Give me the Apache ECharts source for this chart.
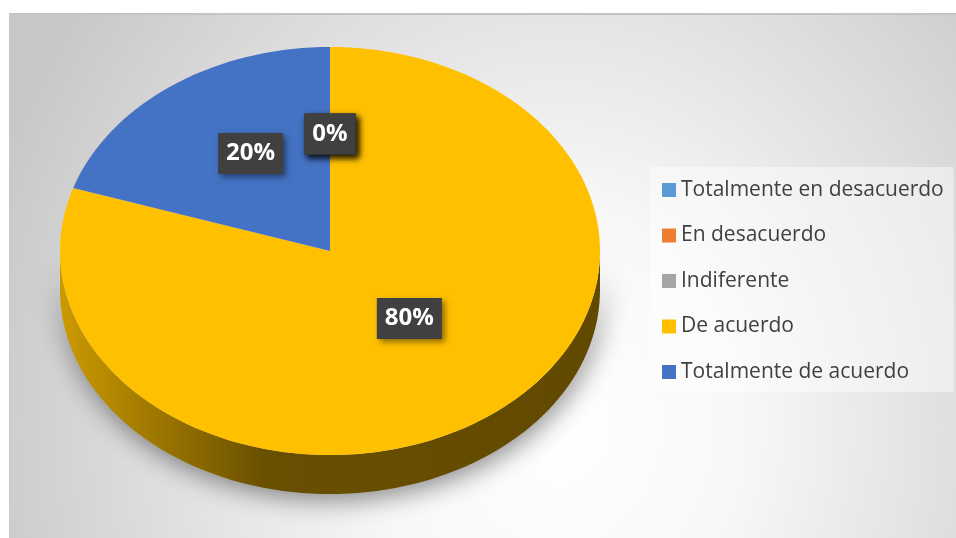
<!DOCTYPE html>
<html>
<head>
<meta charset="utf-8">
<script src="https://cdn.jsdelivr.net/npm/echarts@6/dist/echarts.min.js"></script>
<style>
  html, body { margin: 0; padding: 0; background: #fff; }
  #frame {
    position: absolute; left: 9px; top: 13px; width: 946px; height: 525px;
    border-top: 2px solid #c4c4c4; border-left: 1px solid #c8c8c8;
    background: radial-gradient(ellipse 600px 700px at 58% 78%, #ffffff 0%, #f8f8f8 30%, #c8c8c8 100%);
  }
  #chart { position: absolute; left: 0; top: 0; width: 956px; height: 538px; }
</style>
</head>
<body>
<div id="frame"></div>
<div id="chart"></div>
<script>
// categorias y valores (%)
const categories = ['Totalmente en desacuerdo', 'En desacuerdo', 'Indiferente', 'De acuerdo', 'Totalmente de acuerdo'];
const values = [0, 0, 0, 80, 20];
const colors = ['#5B9BD5', '#ED7D31', '#A5A5A5', '#FFC000', '#4472C4'];

// geometria del pastel 3D
const cx = 330, cy = 251, rx = 270, ry = 204, depth = 39;

const total = values.reduce((a, b) => a + b, 0);

function darken(hex, k) {
  const n = parseInt(hex.slice(1), 16);
  const r = Math.round(((n >> 16) & 255) * k);
  const g = Math.round(((n >> 8) & 255) * k);
  const b = Math.round((n & 255) * k);
  return 'rgb(' + r + ',' + g + ',' + b + ')';
}

function pt(t, dy) {
  return [cx + rx * Math.cos(t), cy - ry * Math.sin(t) + (dy || 0)];
}

function arc(from, to, dy) {
  const steps = Math.max(2, Math.ceil(Math.abs(to - from) / (Math.PI * 2) * 180));
  const pts = [];
  for (let i = 0; i <= steps; i++) {
    pts.push(pt(from + (to - from) * i / steps, dy));
  }
  return pts;
}

function renderSlice(params, api) {
  const idx = params.seriesIndex;
  const v = api.value(0);
  let before = 0;
  for (let i = 0; i < idx; i++) before += values[i];
  // sentido horario desde las 12
  const a0 = Math.PI / 2 - Math.PI * 2 * before / total;
  const a1 = Math.PI / 2 - Math.PI * 2 * (before + v) / total;
  const color = colors[idx];
  const children = [];

  if (v > 0) {
    // pared exterior visible (mitad frontal)
    for (let k = -1; k <= 1; k++) {
      const lo = Math.max(a1, -Math.PI + 2 * Math.PI * k);
      const hi = Math.min(a0, 2 * Math.PI * k);
      if (hi > lo) {
        const top = arc(lo, hi, 0);
        const bottom = arc(hi, lo, depth);
        children.push({
          type: 'polygon',
          z2: 1,
          shape: { points: top.concat(bottom) },
          style: {
            fill: {
              type: 'linear', x: cx - rx, y: 0, x2: cx + rx, y2: 0, global: true,
              colorStops: [
                { offset: 0, color: darken(color, 0.8) },
                { offset: 0.38, color: darken(color, 0.41) },
                { offset: 1, color: darken(color, 0.38) }
              ]
            },
            shadowBlur: 26,
            shadowColor: 'rgba(0,0,0,0.45)',
            shadowOffsetX: 2,
            shadowOffsetY: 6
          }
        });
      }
    }
    // cara superior
    children.push({
      type: 'polygon',
      z2: 10,
      shape: { points: [[cx, cy]].concat(arc(a0, a1, 0)) },
      style: { fill: color }
    });
  }

  // etiqueta de datos
  const mid = (a0 + a1) / 2;
  children.push({
    type: 'text',
    z2: 30,
    x: cx + rx * 0.5 * Math.cos(mid),
    y: cy - 15 - ry * 0.5 * Math.sin(mid),
    style: {
      text: Math.round(v / total * 100) + '%',
      fill: '#ffffff',
      font: 'bold 24px "Open Sans"',
      align: 'center',
      verticalAlign: 'middle',
      lineHeight: 29,
      padding: [6, 8],
      backgroundColor: '#404040',
      shadowBlur: 6,
      shadowOffsetX: 3,
      shadowOffsetY: 3,
      shadowColor: 'rgba(0,0,0,0.45)'
    }
  });
  return { type: 'group', children: children };
}

const chart = echarts.init(document.getElementById('chart'));
chart.setOption({
  animation: false,
  color: colors,
  legend: {
    data: categories,
    orient: 'vertical',
    left: 650,
    top: 167,
    padding: [11, 10, 8, 12],
    itemGap: 21.5,
    itemWidth: 14,
    itemHeight: 14,
    icon: 'rect',
    backgroundColor: 'rgba(255,255,255,0.45)',
    selectedMode: false,
    textStyle: { fontFamily: 'Open Sans', fontSize: 21, color: '#404040', lineHeight: 24 }
  },
  series: categories.map((name, i) => ({
    type: 'custom',
    name: name,
    coordinateSystem: 'none',
    itemStyle: { color: colors[i] },
    renderItem: renderSlice,
    data: [[values[i]]]
  }))
});
</script>
</body>
</html>
